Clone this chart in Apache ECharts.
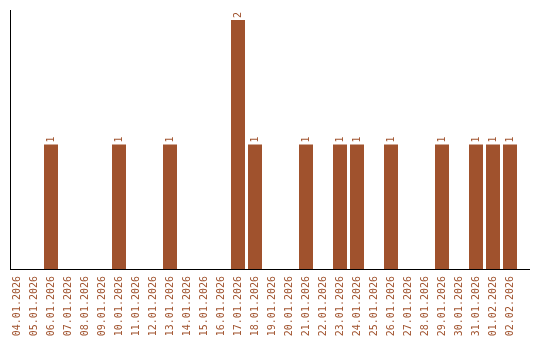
<!DOCTYPE html>
<html>
<head>
<meta charset="utf-8">
<script src="https://cdn.jsdelivr.net/npm/echarts@6/dist/echarts.min.js"></script>
<style>html,body{margin:0;padding:0;background:#fff;}#c{width:540px;height:340px;}</style>
</head>
<body>
<div id="c"></div>
<script>
var categories = ['04.01.2026','05.01.2026','06.01.2026','07.01.2026','08.01.2026','09.01.2026','10.01.2026','11.01.2026','12.01.2026','13.01.2026','14.01.2026','15.01.2026','16.01.2026','17.01.2026','18.01.2026','19.01.2026','20.01.2026','21.01.2026','22.01.2026','23.01.2026','24.01.2026','25.01.2026','26.01.2026','27.01.2026','28.01.2026','29.01.2026','30.01.2026','31.01.2026','01.02.2026','02.02.2026'];
var counts = [0,0,1,0,0,0,1,0,0,1,0,0,0,2,1,0,0,1,0,1,1,0,1,0,0,1,0,1,1,1];

var color = '#A0522D';
var chart = echarts.init(document.getElementById('c'), null, {renderer: 'canvas'});
chart.setOption({
  animation: false,
  backgroundColor: '#fff',
  grid: {left: 8.5, right: 21.5, top: 20, bottom: 71, containLabel: false},
  xAxis: {
    type: 'category',
    data: categories,
    axisLine: {show: false},
    axisTick: {show: false},
    axisLabel: {rotate: 90, color: color, fontFamily: 'DejaVu Sans Mono', fontSize: 10, margin: 7, interval: 0}
  },
  yAxis: {
    type: 'value', min: 0, max: 2,
    axisLine: {show: false}, axisTick: {show: false}, axisLabel: {show: false}, splitLine: {show: false}
  },
  series: [{
    type: 'bar',
    data: counts,
    barWidth: 14,
    itemStyle: {color: color},
    label: {
      show: true, position: 'top', rotate: 90, align: 'left', verticalAlign: 'middle', distance: 2,
      color: color, fontFamily: 'DejaVu Sans Mono', fontSize: 10,
      formatter: function (p) { return p.value ? String(p.value) : ''; }
    }
  }],
  graphic: [
    {type: 'line', shape: {x1: 10.5, y1: 10, x2: 10.5, y2: 270}, style: {stroke: '#000', lineWidth: 1}, z: 10},
    {type: 'line', shape: {x1: 10, y1: 269.5, x2: 530, y2: 269.5}, style: {stroke: '#000', lineWidth: 1}, z: 10}
  ]
});
</script>
</body>
</html>
